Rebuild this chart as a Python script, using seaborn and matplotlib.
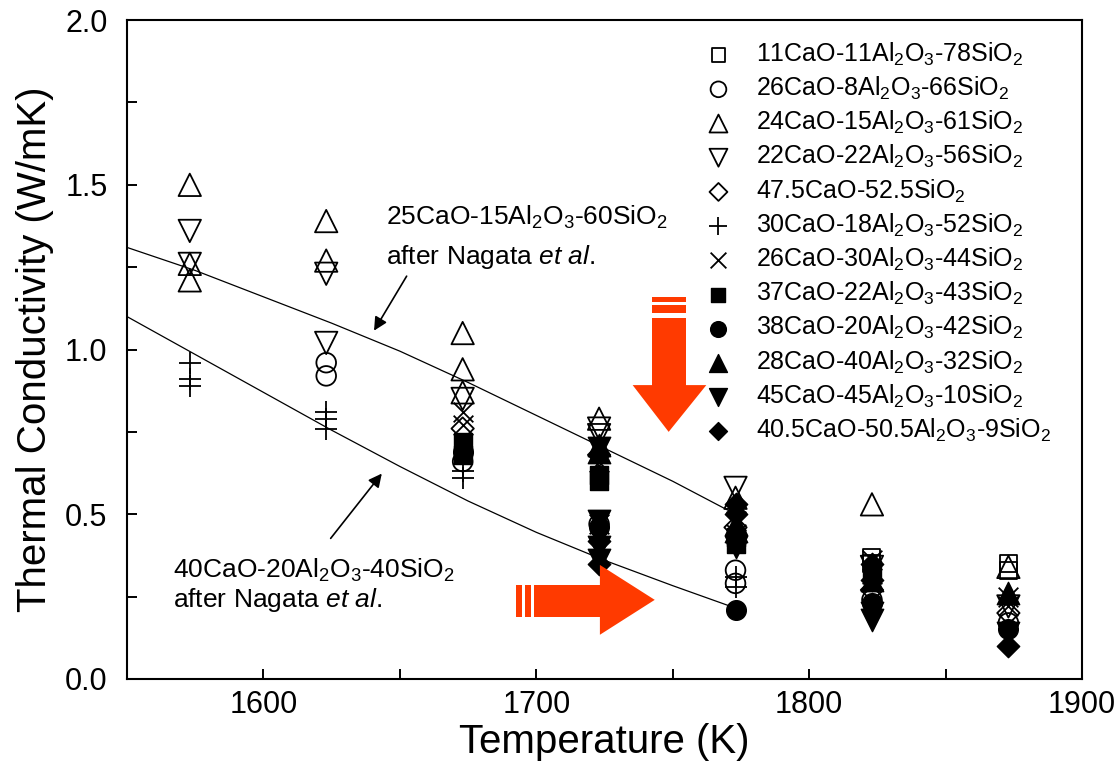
import matplotlib
matplotlib.use("Agg")
import matplotlib.pyplot as plt
import seaborn as sns
import numpy as np
import pandas as pd
from matplotlib.patches import Polygon, Rectangle

# ---------------- data ----------------
labels = [
    "11CaO-11Al$_2$O$_3$-78SiO$_2$",
    "26CaO-8Al$_2$O$_3$-66SiO$_2$",
    "24CaO-15Al$_2$O$_3$-61SiO$_2$",
    "22CaO-22Al$_2$O$_3$-56SiO$_2$",
    "47.5CaO-52.5SiO$_2$",
    "30CaO-18Al$_2$O$_3$-52SiO$_2$",
    "26CaO-30Al$_2$O$_3$-44SiO$_2$",
    "37CaO-22Al$_2$O$_3$-43SiO$_2$",
    "38CaO-20Al$_2$O$_3$-42SiO$_2$",
    "28CaO-40Al$_2$O$_3$-32SiO$_2$",
    "45CaO-45Al$_2$O$_3$-10SiO$_2$",
    "40.5CaO-50.5Al$_2$O$_3$-9SiO$_2$",
]

s1_T = [1823, 1823, 1873, 1873]
s1_k = [0.37, 0.35, 0.35, 0.33]
s2_T = [1623, 1623, 1673, 1723, 1773, 1773, 1823, 1873]
s2_k = [0.96, 0.92, 0.66, 0.47, 0.33, 0.29, 0.24, 0.17]
s3_T = [1573, 1573, 1573, 1623, 1623, 1673, 1673, 1673, 1723, 1773, 1823, 1873]
s3_k = [1.50, 1.26, 1.21, 1.39, 1.27, 1.05, 0.94, 0.87, 0.79, 0.55, 0.53, 0.34]
s4_T = [1573, 1573, 1623, 1623, 1673, 1723, 1723, 1773, 1823, 1873]
s4_k = [1.36, 1.26, 1.23, 1.02, 0.85, 0.76, 0.74, 0.58, 0.34, 0.22]
s5_T = [1673, 1723, 1773, 1823, 1873]
s5_k = [0.76, 0.68, 0.46, 0.27, 0.20]
s6_T = [1573, 1573, 1573, 1623, 1623, 1623, 1673, 1673, 1773, 1773]
s6_k = [0.96, 0.91, 0.89, 0.81, 0.79, 0.76, 0.63, 0.61, 0.31, 0.28]
s7_T = [1673, 1673, 1723, 1723, 1773, 1773, 1823, 1823, 1873, 1873]
s7_k = [0.81, 0.77, 0.66, 0.47, 0.48, 0.44, 0.36, 0.32, 0.25, 0.22]
s8_T = [1673, 1673, 1723, 1723, 1773, 1773, 1823]
s8_k = [0.72, 0.68, 0.62, 0.60, 0.43, 0.41, 0.33]
s9_T = [1673, 1723, 1773, 1823, 1873]
s9_k = [0.69, 0.46, 0.21, 0.23, 0.15]
s10_T = [1723, 1723, 1773, 1773, 1823, 1873]
s10_k = [0.71, 0.69, 0.47, 0.45, 0.30, 0.26]
s11_T = [1723, 1723, 1723, 1723, 1773, 1823, 1823, 1873]
s11_k = [0.70, 0.48, 0.40, 0.36, 0.40, 0.20, 0.18, 0.14]
s12_T = [1723, 1723, 1773, 1773, 1823, 1823, 1873]
s12_k = [0.42, 0.35, 0.53, 0.50, 0.35, 0.30, 0.10]

# Nagata et al. curves
nag1_T = [1550, 1575, 1600, 1625, 1650, 1675, 1700, 1725, 1750, 1773]
nag1_k = [1.31, 1.24, 1.16, 1.08, 0.995, 0.90, 0.80, 0.70, 0.60, 0.50]
nag2_T = [1550, 1575, 1600, 1625, 1650, 1675, 1700, 1725, 1750, 1773]
nag2_k = [1.10, 0.985, 0.87, 0.755, 0.645, 0.54, 0.445, 0.36, 0.283, 0.215]

xticks = [1600, 1700, 1800, 1900]
yticks = [0.0, 0.5, 1.0, 1.5, 2.0]

# ---------------- style ----------------
sns.set_theme(style="white")
plt.rcParams["font.family"] = ["Liberation Sans", "DejaVu Sans"]
plt.rcParams["mathtext.fontset"] = "custom"
plt.rcParams["mathtext.rm"] = "Liberation Sans"
plt.rcParams["mathtext.it"] = "Liberation Sans:italic"
for key in ["text.color", "axes.labelcolor", "xtick.color", "ytick.color",
            "axes.edgecolor"]:
    plt.rcParams[key] = "black"

series = [
    (s1_T, s1_k, "s", "open", 150),
    (s2_T, s2_k, "o", "open", 200),
    (s3_T, s3_k, "^", "open", 260),
    (s4_T, s4_k, "v", "open", 260),
    (s5_T, s5_k, "D", "open", 130),
    (s6_T, s6_k, "+", "line", 260),
    (s7_T, s7_k, "x", "line", 200),
    (s8_T, s8_k, "s", "fill", 150),
    (s9_T, s9_k, "o", "fill", 200),
    (s10_T, s10_k, "^", "fill", 260),
    (s11_T, s11_k, "v", "fill", 260),
    (s12_T, s12_k, "D", "fill", 130),
]

fig = plt.figure(figsize=(11.19, 7.75), dpi=100)
ax = fig.add_axes([0.1135, 0.124, 0.8535, 0.850])

for (T, k, m, kind, size), lab in zip(series, labels):
    df = pd.DataFrame({"T": T, "k": k})
    if kind == "open":
        sns.scatterplot(data=df, x="T", y="k", marker=m, s=size, ax=ax,
                        facecolor="none", edgecolor="black", linewidth=1.3,
                        label=lab, zorder=3)
    elif kind == "fill":
        sns.scatterplot(data=df, x="T", y="k", marker=m, s=size, ax=ax,
                        color="black", edgecolor="black", linewidth=1.0,
                        label=lab, zorder=3)
    else:
        sns.scatterplot(data=df, x="T", y="k", marker=m, s=size, ax=ax,
                        color="black", linewidth=1.3, label=lab, zorder=3)

sns.lineplot(x=nag1_T, y=nag1_k, ax=ax, color="black", linewidth=0.9,
             legend=False, zorder=2)
sns.lineplot(x=nag2_T, y=nag2_k, ax=ax, color="black", linewidth=0.9,
             legend=False, zorder=2)

ax.set_xlim(1550, 1900)
ax.set_ylim(0.0, 2.0)
ax.set_xticks(xticks)
ax.set_yticks(yticks)
ax.set_xticks([1550, 1650, 1750, 1850], minor=True)
ax.set_yticks([0.25, 0.75, 1.25, 1.75], minor=True)
ax.set_yticklabels([f"{v:.1f}" for v in yticks])
ax.tick_params(axis="both", which="both", direction="in", length=7, width=1.4,
               labelsize=22, top=False, right=False, bottom=True, left=True)
ax.tick_params(axis="x", pad=8)
ax.tick_params(axis="y", pad=14)
for sp in ax.spines.values():
    sp.set_linewidth(1.5)
    sp.set_color("black")

ax.set_xlabel("Temperature (K)", fontsize=29, labelpad=2)
ax.set_ylabel("Thermal Conductivity (W/mK)", fontsize=29, labelpad=8)

# annotations
ax.text(1645, 1.40, "25CaO-15Al$_2$O$_3$-60SiO$_2$", fontsize=19, va="center", ha="left")
ax.text(1645, 1.28, r"after Nagata $\mathit{et\ al}$.", fontsize=19, va="center", ha="left")
ax.annotate("", xy=(1640, 1.05), xytext=(1653, 1.23),
            arrowprops=dict(arrowstyle="-|>", color="black", lw=1.2, mutation_scale=20))
ax.text(1567, 0.33, "40CaO-20Al$_2$O$_3$-40SiO$_2$", fontsize=19, va="center", ha="left")
ax.text(1567, 0.24, r"after Nagata $\mathit{et\ al}$.", fontsize=19, va="center", ha="left")
ax.annotate("", xy=(1644, 0.63), xytext=(1624, 0.42),
            arrowprops=dict(arrowstyle="-|>", color="black", lw=1.2, mutation_scale=20))

# orange arrows
orange = "#ff3a00"
# down arrow
ax.add_patch(Rectangle((1742.3, 1.144), 12.5, 0.016, color=orange, lw=0, zorder=4))
ax.add_patch(Rectangle((1742.3, 1.111), 12.5, 0.024, color=orange, lw=0, zorder=4))
ax.add_patch(Rectangle((1742.3, 0.89), 12.5, 0.206, color=orange, lw=0, zorder=4))
ax.add_patch(Polygon([(1735.3, 0.892), (1762.3, 0.892), (1748.5, 0.75)],
                     closed=True, color=orange, lw=0, zorder=4))
# right arrow
ax.add_patch(Rectangle((1692.6, 0.188), 2.0, 0.097, color=orange, lw=0, zorder=4))
ax.add_patch(Rectangle((1695.7, 0.188), 2.3, 0.097, color=orange, lw=0, zorder=4))
ax.add_patch(Rectangle((1699.3, 0.188), 24.3, 0.097, color=orange, lw=0, zorder=4))
ax.add_patch(Polygon([(1723.3, 0.346), (1723.3, 0.134), (1743.4, 0.24)],
                     closed=True, color=orange, lw=0, zorder=4))

leg = ax.legend(loc="upper right", bbox_to_anchor=(0.978, 0.984), frameon=False,
                fontsize=18, handletextpad=0.9, labelspacing=0.28,
                borderaxespad=0.0, scatterpoints=1, markerscale=0.8,
                handlelength=1.2)

fig.savefig("out.png", dpi=100)
